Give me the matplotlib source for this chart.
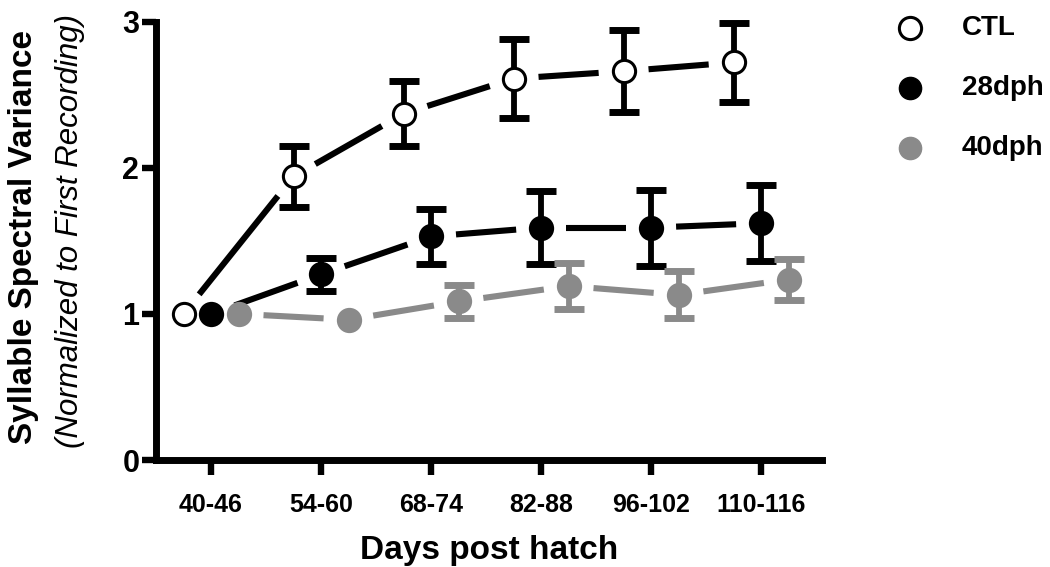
import matplotlib
matplotlib.use("Agg")
import matplotlib.pyplot as plt
from matplotlib.lines import Line2D
import numpy as np

categories = ["40-46", "54-60", "68-74", "82-88", "96-102", "110-116"]
ctl_mean = [1.0, 1.94, 2.37, 2.61, 2.66, 2.72]
ctl_err = [0.0, 0.21, 0.22, 0.27, 0.28, 0.27]
d28_mean = [1.0, 1.27, 1.53, 1.59, 1.59, 1.62]
d28_err = [0.0, 0.115, 0.19, 0.25, 0.26, 0.26]
d40_mean = [1.0, 0.96, 1.085, 1.19, 1.13, 1.235]
d40_err = [0.0, 0.0, 0.115, 0.155, 0.16, 0.14]
series_names = ["CTL", "28dph", "40dph"]

plt.rcParams['font.family'] = ['Liberation Sans', 'DejaVu Sans']

fig = plt.figure(figsize=(10.5, 5.67), dpi=100)
ax = fig.add_axes([0.1486, 0.1887, 0.7825 - 0.1486, 0.962 - 0.1887])
ax.set_xlim(-0.5, 5.55)
ax.set_ylim(0, 3)

gray = "#8a8a8a"
series = [
    (ctl_mean, ctl_err, -0.25, "black", "white", "black"),
    (d28_mean, d28_err, 0.0, "black", "black", "black"),
    (d40_mean, d40_err, 0.25, gray, gray, gray),
]
x = np.arange(len(categories))
ms = 16
lw = 4.4
gap_px = 25.0

# connecting lines, shortened near each marker (gap as in the original)
for mean, err, off, lc, fc, ec in series:
    pts = ax.transData.transform(np.column_stack([x + off, mean]))
    for i in range(len(pts) - 1):
        p0, p1 = pts[i], pts[i + 1]
        d = p1 - p0
        L = np.hypot(*d)
        u = d / L
        a = ax.transData.inverted().transform(p0 + u * gap_px)
        b = ax.transData.inverted().transform(p1 - u * gap_px)
        ax.plot([a[0], b[0]], [a[1], b[1]], color=lc, lw=lw, zorder=1,
                solid_capstyle='butt', clip_on=False)

# error bars
for mean, err, off, lc, fc, ec in series:
    xs = x + off
    m = np.array(mean); e = np.array(err)
    mask = e > 0
    eb = ax.errorbar(xs[mask], m[mask], yerr=e[mask], fmt='none', ecolor=lc, elinewidth=4.2,
                     capsize=10.5, capthick=5, zorder=3, clip_on=False)
    for c in list(eb.lines[1]) + list(eb.lines[2]):
        c.set_clip_on(False)
# markers
for mean, err, off, lc, fc, ec in series:
    ax.plot(x + off, mean, ls='none', marker='o', ms=ms, mfc=fc, mec=ec, mew=2.2,
            zorder=4, clip_on=False)

ax.set_yticks([0, 1, 2, 3])
ax.set_yticklabels(["0", "1", "2", "3"], fontsize=22, fontweight='bold')
ax.set_xticks(x)
ax.set_xticklabels(categories, fontsize=18, fontweight='bold')
for s in ['top', 'right']:
    ax.spines[s].set_visible(False)
for s in ['left', 'bottom']:
    ax.spines[s].set_linewidth(5)
    ax.spines[s].set_capstyle('projecting')
ax.tick_params(axis='y', direction='out', length=10, width=4.6, pad=2)
ax.tick_params(axis='x', direction='out', length=11, width=4.6, pad=13)

ax.set_xlabel("Days post hatch", fontsize=24, fontweight='bold', labelpad=13)

fig.text(0.022, 0.582, "Syllable Spectral Variance", rotation=90, fontsize=24,
         fontweight='bold', ha='center', va='center')
fig.text(0.067, 0.593, "(Normalized to First Recording)", rotation=90, fontsize=22.5,
         style='italic', ha='center', va='center')

# legend
leg_styles = [
    dict(mfc='white', mec='black', mew=2.2),
    dict(mfc='black', mec='black', mew=1),
    dict(mfc=gray, mec=gray, mew=1),
]
leg_y = [28, 88, 148]
for name, st, yy in zip(series_names, leg_styles, leg_y):
    yf = 1 - yy / 567
    fig.add_artist(Line2D([910 / 1050], [yf], transform=fig.transFigure, ls='none',
                          marker='o', ms=16, **st))
    fig.text(962 / 1050, yf, name, fontsize=20, fontweight='bold', ha='left', va='center')

fig.savefig("out.png", dpi=100)
